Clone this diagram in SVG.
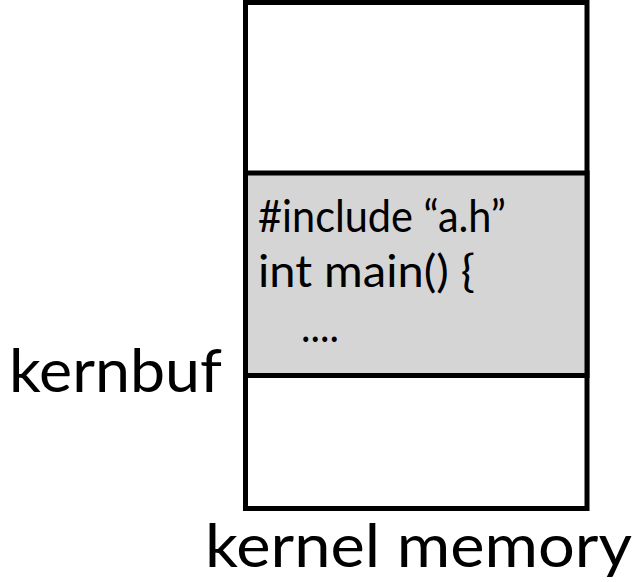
<svg xmlns="http://www.w3.org/2000/svg" width="635" height="582" viewBox="0 0 635 582">
<style>
.box{stroke:#000;stroke-width:5;}
.lbl{font-family:Lato,"Open Sans","Liberation Sans",sans-serif;fill:#000;}
.big{font-size:60px;}
.code{font-size:45px;}
</style>
<rect x="0" y="0" width="635" height="582" fill="#fff"/>
<g id="kernel-memory">
<rect class="box" x="245.5" y="2.5" width="341.5" height="506" fill="#fff"/>
</g>
<g id="kernbuf-region">
<rect class="box" x="245.5" y="173" width="341.5" height="202.5" fill="#d5d5d5"/>
<text class="lbl code" x="258" y="232" textLength="248" lengthAdjust="spacingAndGlyphs">#include “a.h”</text>
<text class="lbl code" x="258" y="287" textLength="217" lengthAdjust="spacingAndGlyphs">int main() {</text>
<text class="lbl code" x="301" y="342" textLength="38" lengthAdjust="spacingAndGlyphs">....</text>
</g>
<g id="labels">
<text class="lbl big" x="9" y="392" textLength="213" lengthAdjust="spacingAndGlyphs">kernbuf</text>
<text class="lbl big" x="205" y="567" textLength="427" lengthAdjust="spacingAndGlyphs">kernel memory</text>
</g>
<g id="connectors"></g>
</svg>
